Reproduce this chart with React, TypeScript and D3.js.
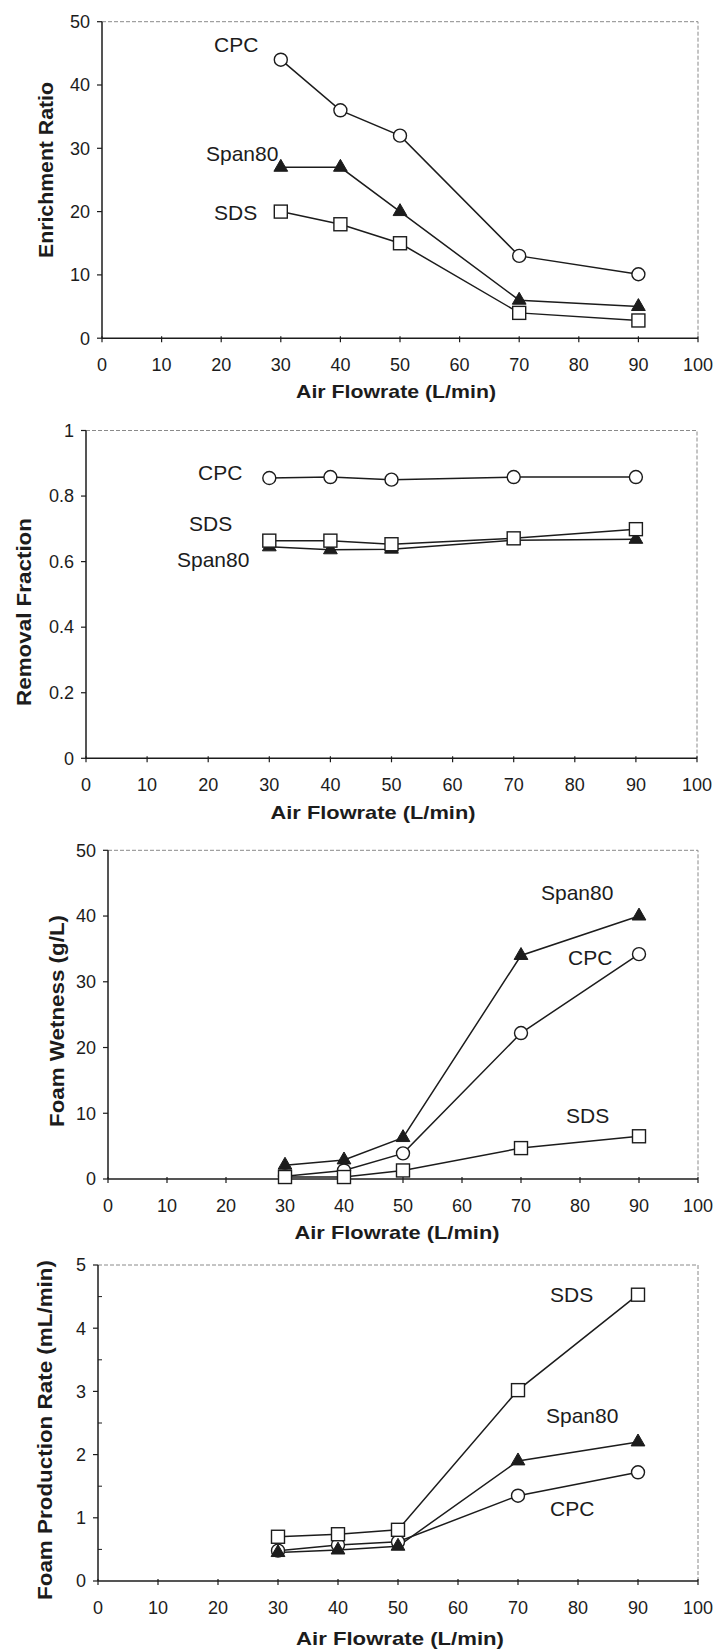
import React from "react";
import * as d3 from "d3";

// ---------- data ----------
const airFlow = [30, 40, 50, 70, 90];
const xTicks = [0, 10, 20, 30, 40, 50, 60, 70, 80, 90, 100];

const enrichCPC = [44, 36, 32, 13, 10.1];
const enrichSpan80 = [27, 27, 20, 6, 5];
const enrichSDS = [20, 18, 15, 4, 2.8];

const removalCPC = [0.855, 0.858, 0.85, 0.858, 0.858];
const removalSpan80 = [0.645, 0.636, 0.638, 0.665, 0.668];
const removalSDS = [0.664, 0.664, 0.653, 0.671, 0.699];

const wetCPC = [0.4, 1.3, 3.9, 22.2, 34.2];
const wetSpan80 = [2.1, 2.9, 6.3, 34, 40];
const wetSDS = [0.3, 0.3, 1.3, 4.7, 6.5];

const rateCPC = [0.48, 0.57, 0.62, 1.35, 1.72];
const rateSpan80 = [0.45, 0.49, 0.55, 1.9, 2.2];
const rateSDS = [0.7, 0.74, 0.81, 3.02, 4.53];

const ticks50 = [0, 10, 20, 30, 40, 50];
const ticks1 = [0, 0.2, 0.4, 0.6, 0.8, 1];
const ticks5 = [0, 1, 2, 3, 4, 5];
const minor5 = [0.5, 1.5, 2.5, 3.5, 4.5];

const xTitle = "Air Flowrate (L/min)";

// ---------- layout ----------
type Lbl = { text: string; x: number; y: number };
const panels = [
  {
    yTitle: "Enrichment Ratio",
    yMax: 50, yTicks: ticks50, minor: [] as number[],
    cpc: enrichCPC, span: enrichSpan80, sds: enrichSDS,
    box: { l: 102, r: 698, t: 21.7, b: 338.2 },
    yT: { x: 45, y: 170, len: 176 },
    xT: { x: 396, y: 391, len: 200 },
    labels: [
      { text: "CPC", x: 214, y: 52 },
      { text: "Span80", x: 206, y: 161 },
      { text: "SDS", x: 214, y: 220 },
    ] as Lbl[],
  },
  {
    yTitle: "Removal Fraction",
    yMax: 1, yTicks: ticks1, minor: [] as number[],
    cpc: removalCPC, span: removalSpan80, sds: removalSDS,
    box: { l: 86, r: 697, t: 430.5, b: 758.3 },
    yT: { x: 23, y: 612, len: 188 },
    xT: { x: 373, y: 812, len: 205 },
    labels: [
      { text: "CPC", x: 198, y: 480 },
      { text: "SDS", x: 189, y: 531 },
      { text: "Span80", x: 177, y: 567 },
    ] as Lbl[],
  },
  {
    yTitle: "Foam Wetness (g/L)",
    yMax: 50, yTicks: ticks50, minor: [] as number[],
    cpc: wetCPC, span: wetSpan80, sds: wetSDS,
    box: { l: 108, r: 698, t: 850.3, b: 1179 },
    yT: { x: 56, y: 1021, len: 212 },
    xT: { x: 397, y: 1232, len: 205 },
    labels: [
      { text: "Span80", x: 541, y: 900 },
      { text: "CPC", x: 568, y: 965 },
      { text: "SDS", x: 566, y: 1123 },
    ] as Lbl[],
  },
  {
    yTitle: "Foam Production Rate (mL/min)",
    yMax: 5, yTicks: ticks5, minor: minor5,
    cpc: rateCPC, span: rateSpan80, sds: rateSDS,
    box: { l: 98, r: 698, t: 1265, b: 1581 },
    yT: { x: 44.5, y: 1430, len: 340 },
    xT: { x: 400, y: 1638, len: 208 },
    labels: [
      { text: "SDS", x: 550, y: 1302 },
      { text: "Span80", x: 546, y: 1423 },
      { text: "CPC", x: 550, y: 1516 },
    ] as Lbl[],
  },
];

const INK = "#1c1c1c";
const FONT = "'Liberation Sans', Arial, Helvetica, sans-serif";

function fmt(v: number) {
  return Number.isInteger(v) ? String(v) : String(+v.toFixed(1));
}

function Panel({ p }: { p: (typeof panels)[number] }) {
  const { box } = p;
  const x = d3.scaleLinear().domain([0, 100]).range([box.l, box.r]);
  const y = d3.scaleLinear().domain([0, p.yMax]).range([box.b, box.t]);
  const line = d3
    .line<number>()
    .x((_, i) => x(airFlow[i]))
    .y((d) => y(d));
  const tri = d3.symbol().type(d3.symbolTriangle).size(82)();

  return (
    <g>
      <path
        d={`M${box.l},${box.t}H${box.r}V${box.b}`}
        fill="none"
        stroke="#8a8a8a"
        strokeWidth={1}
        strokeDasharray="4,2"
      />
      <line x1={box.l} x2={box.l} y1={box.t} y2={box.b} stroke={INK} strokeWidth={1.5} />
      <line x1={box.l} x2={box.r} y1={box.b} y2={box.b} stroke={INK} strokeWidth={1.5} />
      {xTicks.map((t) => (
        <g key={"xt" + t}>
          <line x1={x(t)} x2={x(t)} y1={box.b - 2} y2={box.b + 4} stroke={INK} strokeWidth={1.2} />
          <text x={x(t)} y={box.b + 33} textAnchor="middle" fontSize={18} fontFamily={FONT} fill={INK}>
            {t}
          </text>
        </g>
      ))}
      {p.yTicks.map((t) => (
        <g key={"yt" + t}>
          <line x1={box.l - 5} x2={box.l} y1={y(t)} y2={y(t)} stroke={INK} strokeWidth={1.2} />
          <text
            x={box.l - 12}
            y={y(t)}
            dy="0.35em"
            textAnchor="end"
            fontSize={18}
            fontFamily={FONT}
            fill={INK}
          >
            {fmt(t)}
          </text>
        </g>
      ))}
      {p.minor.map((t) => (
        <line key={"mt" + t} x1={box.l} x2={box.l + 4} y1={y(t)} y2={y(t)} stroke={INK} strokeWidth={1} />
      ))}
      <text
        transform={`translate(${p.yT.x},${p.yT.y}) rotate(-90)`}
        textAnchor="middle"
        dominantBaseline="central"
        fontSize={21}
        fontWeight="bold"
        fontFamily={FONT}
        fill={INK}
        textLength={p.yT.len}
        lengthAdjust="spacingAndGlyphs"
      >
        {p.yTitle}
      </text>
      <text
        x={p.xT.x}
        y={p.xT.y}
        textAnchor="middle"
        dominantBaseline="central"
        fontSize={19}
        fontWeight="bold"
        fontFamily={FONT}
        fill={INK}
        textLength={p.xT.len}
        lengthAdjust="spacingAndGlyphs"
      >
        {xTitle}
      </text>
      {[p.cpc, p.span, p.sds].map((s, k) => (
        <path key={"l" + k} d={line(s) || ""} fill="none" stroke={INK} strokeWidth={1.5} />
      ))}
      {p.cpc.map((v, i) => (
        <circle key={"c" + i} cx={x(airFlow[i])} cy={y(v)} r={6.5} fill="#fff" stroke={INK} strokeWidth={1.4} />
      ))}
      {p.span.map((v, i) => (
        <path key={"t" + i} d={tri || ""} transform={`translate(${x(airFlow[i])},${y(v)})`} fill={INK} stroke={INK} strokeWidth={1} />
      ))}
      {p.sds.map((v, i) => (
        <rect key={"s" + i} x={x(airFlow[i]) - 6.5} y={y(v) - 6.5} width={13} height={13} fill="#fff" stroke={INK} strokeWidth={1.4} />
      ))}
      {p.labels.map((l) => (
        <text key={l.text} x={l.x} y={l.y} fontSize={21} fontFamily={FONT} fill={INK}>
          {l.text}
        </text>
      ))}
    </g>
  );
}

export default function App() {
  return (
    <svg
      width={716}
      height={1650}
      viewBox="0 0 716 1650"
      style={{ position: "absolute", left: 0, top: 0, background: "#fff" }}
    >
      <rect width={716} height={1650} fill="#fff" />
      {panels.map((p, i) => (
        <Panel key={i} p={p} />
      ))}
    </svg>
  );
}
